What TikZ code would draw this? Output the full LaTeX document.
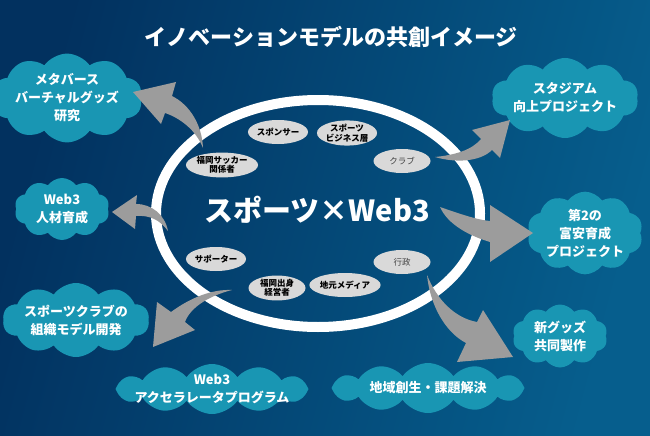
\documentclass[tikz,border=0pt]{standalone}
\usepackage{fontspec}
\setmainfont{Noto Sans CJK JP}
\usetikzlibrary{shapes.symbols,shapes.geometric}
\definecolor{bgA}{HTML}{02315F}
\definecolor{bgB}{HTML}{065E8D}
\definecolor{cloudc}{HTML}{1996B3}
\definecolor{arrowc}{HTML}{9C9C9C}
\definecolor{pillc}{HTML}{D9D9D9}
\begin{document}
\begin{tikzpicture}[x=1pt,y=-1pt,
  cloudbox/.style={cloud, cloud puffs=#1, cloud puff arc=110, cloud ignores aspect,
    fill=cloudc, inner sep=0pt, text=white, align=center,
    font=\bfseries\fontsize{13}{18}\selectfont},
  cloudbox/.default=10,
  cloudtext/.style={text=white, align=center, inner sep=0pt,
    font=\bfseries\fontsize{13}{18}\selectfont},
  pillbox/.style={ellipse, fill=pillc, minimum width=57, minimum height=24, inner sep=0pt,
    align=center, text=black, font=\bfseries\fontsize{8.5}{9.5}\selectfont},
  pilllight/.style={pillbox, text=black!75, font=\fontsize{8.5}{9.5}\selectfont},
  blockarrow/.style={fill=arrowc},
  ring/.style={draw=white, line width=10}
]
% background
\shade[left color=bgA, right color=bgB, shading angle=75] (0,0) rectangle (650,436);
\useasboundingbox (0,0) rectangle (650,436);

% title
\node[text=white, font=\bfseries\fontsize{22}{26}\selectfont] (title) at (331,37) {イノベーションモデルの共創イメージ};

% ring
\draw[ring] (318,213.5) ellipse [x radius=162, y radius=113.5];

% clouds
\node[cloudbox, minimum width=127, minimum height=73] (c1) at (67,98) {メタバース\\バーチャルグッズ\\研究};
\node[cloudbox, minimum width=95, minimum height=62] (c2) at (62,209) {Web3\\人材育成};
\node[cloudbox, minimum width=124, minimum height=80] (c3) at (565,98) {スタジアム\\向上プロジェクト};
\node[cloudbox, minimum width=94, minimum height=67] (c4) at (585,233) {第2の\\富安育成\\プロジェクト};
\node[cloudbox, minimum width=126, minimum height=74] (c5) at (76,320) {スポーツクラブの\\組織モデル開発};
\node[cloudbox=12, minimum width=193, minimum height=50] (c6) at (212,389) {};
\node[cloudtext] (t6) at (c6.center) {Web3\\アクセラレータプログラム};
\node[cloudbox=12, minimum width=193, minimum height=50] (c8) at (428,388) {};
\node[cloudtext] (t8) at (c8.center) {地域創生・課題解決};
\node[cloudbox, minimum width=95, minimum height=63] (c7) at (560,336) {新グッズ\\共同製作};

% small ellipses
\node[pillbox] (p1) at (278,132) {スポンサー};
\node[pillbox] (p2) at (347,133) {スポーツ\\ビジネス層};
\node[pilllight] (p3) at (402,161) {クラブ};
\node[pillbox] (p4) at (222,165) {福岡サッカー\\関係者};
\node[pillbox] (p5) at (216,259) {サポーター};
\node[pillbox] (p6) at (277,288) {福岡出身\\経営者};
\node[pillbox] (p7) at (345,285) {地元メディア};
\node[pilllight] (p8) at (402,262) {行政};

% main text
\node[text=white, font=\bfseries\fontsize{29}{33}\selectfont] (main) at (317,210) {スポーツ×Web3};

% curved block arrows
\fill[blockarrow] (203,148) .. controls (202,125) and (190,105) .. (172,96)
  -- (176,82) -- (133,92) -- (161,124) -- (165,113)
  .. controls (180,118) and (196,130) .. cycle;
\fill[blockarrow] (168,231) .. controls (165,215) and (152,204) .. (136,204)
  -- (137,195) -- (112,212) -- (135,229) -- (136,216)
  .. controls (150,215) and (160,220) .. cycle;
\fill[blockarrow] (435,157) .. controls (455,155) and (472,150) .. (481,139)
  -- (472,130) -- (510,120) -- (500,158) -- (492,150)
  .. controls (480,162) and (455,163) .. cycle;
\fill[blockarrow] (440,207) .. controls (460,214) and (478,220) .. (490,221)
  -- (490,205) -- (533,233) -- (490,262) -- (490,242)
  .. controls (470,236) and (448,225) .. cycle;
\fill[blockarrow] (232,290) .. controls (212,289) and (190,298) .. (171,312)
  -- (157,302) -- (153,347) -- (195,330) -- (185,322)
  .. controls (190,308) and (208,296) .. cycle;
\fill[blockarrow] (427,275) .. controls (437,300) and (455,318) .. (477,322)
  -- (483,310) -- (513,357) -- (457,362) -- (466,343)
  .. controls (445,332) and (430,305) .. cycle;
\end{tikzpicture}
\end{document}
